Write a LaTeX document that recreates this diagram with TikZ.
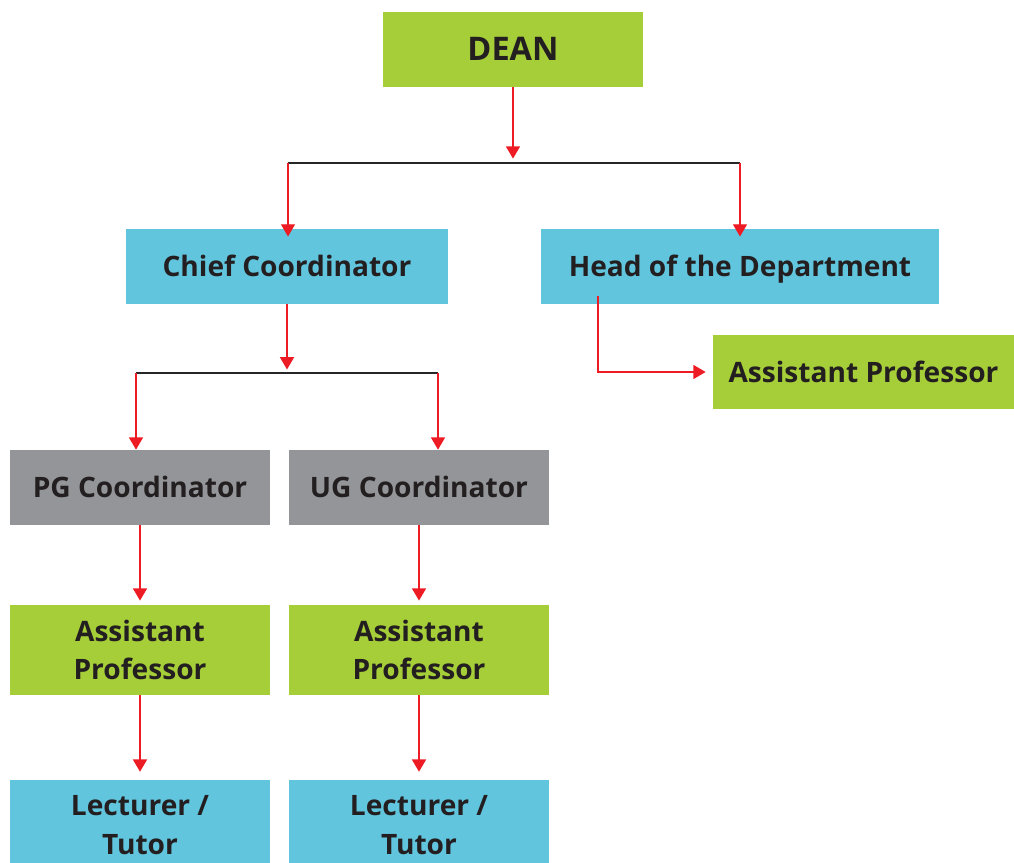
\documentclass[tikz,border=0pt]{standalone}
\usepackage{fontspec}
\setmainfont{Open Sans}
\usetikzlibrary{arrows.meta}
\definecolor{boxGreen}{RGB}{166,206,57}
\definecolor{boxBlue}{RGB}{98,197,222}
\definecolor{boxGray}{RGB}{147,149,152}
\definecolor{arrowRed}{RGB}{237,28,36}
\definecolor{textDark}{RGB}{35,31,32}

\begin{document}
\begin{tikzpicture}[
    x=0.02cm,
    y=-0.02cm,
    post/.style={
        rectangle,
        inner sep=0pt,
        text=textDark,
        align=center,
        font=\fontsize{16}{22}\selectfont\bfseries,
        minimum height=75*0.02cm
    },
    oneline/.style={
        text height=11.5pt,
        text depth=0pt
    },
    greenpost/.style={
        post,
        fill=boxGreen
    },
    bluepost/.style={
        post,
        fill=boxBlue
    },
    graypost/.style={
        post,
        fill=boxGray
    },
    link/.style={
        arrowRed,
        line width=0.8pt,
        -{Triangle[length=7pt,width=8pt]}
    },
    branch/.style={
        black!85,
        line width=0.8pt
    }
]

\useasboundingbox (0,0) rectangle (1014,862);

%------------------------------------------------
% Top levels
%------------------------------------------------
\node[greenpost,oneline,text height=13pt,minimum width=260*0.02cm,
    font=\fontsize{18.5}{22}\selectfont\bfseries] (dean) at (513,49.5) {DEAN};

\node[bluepost,oneline,minimum width=322*0.02cm] (chief) at (287,266.5)
    {Chief Coordinator};

\node[bluepost,oneline,minimum width=398*0.02cm] (hod) at (740,266.5)
    {Head of the Department};

\node[greenpost,oneline,minimum width=301*0.02cm,minimum height=74*0.02cm]
    (asstright) at (863.5,372) {Assistant Professor};

%------------------------------------------------
% Coordinators
%------------------------------------------------
\node[graypost,oneline,minimum width=260*0.02cm] (pg) at (140,487.5)
    {PG Coordinator};

\node[graypost,oneline,minimum width=260*0.02cm] (ug) at (419,487.5)
    {UG Coordinator};

%------------------------------------------------
% Staff under each coordinator
%------------------------------------------------
\foreach \name/\x in {pg/140,ug/419}{
    \node[greenpost,minimum width=260*0.02cm,minimum height=90*0.02cm]
        (asst\name) at (\x,650) {Assistant\\Professor};
    \node[bluepost,minimum width=260*0.02cm,minimum height=90*0.02cm]
        (lect\name) at (\x,825) {Lecturer /\\Tutor};
}

%------------------------------------------------
% Branch points
%------------------------------------------------
\coordinate (deansplit) at (513,163);
\coordinate (deanleft) at (288,163);
\coordinate (deanright) at (740,163);

\coordinate (chiefsplit) at (287,373);
\coordinate (chiefleft) at (136,373);
\coordinate (chiefright) at (438,373);

\coordinate (hodstart) at (598,296);
\coordinate (hodbend) at (598,372);

% Dean to chief coordinator and head of department
\draw[link,shorten >=2.5pt] (dean.south) -- (deansplit);
\draw[branch] (deanleft) -- (deanright);
\draw[link,shorten >=-4.5pt] (deanleft) -- (deanleft |- chief.north);
\draw[link,shorten >=-4.5pt] (deanright) -- (deanright |- hod.north);

% Chief coordinator to PG and UG
\draw[link,shorten >=2pt] (chief.south) -- (chiefsplit);
\draw[branch] (chiefleft) -- (chiefright);
\draw[link] (chiefleft) -- (chiefleft |- pg.north);
\draw[link] (chiefright) -- (chiefright |- ug.north);

% Head of department to assistant professor
\draw[link,shorten >=4pt] (hodstart) -- (hodbend) -- (asstright.west |- hodbend);

% Down each column
\foreach \name in {pg,ug}{
    \draw[link,shorten >=2.3pt] (\name.south) -- (asst\name.north);
    \draw[link,shorten >=4.5pt] (asst\name.south) -- (lect\name.north);
}

\end{tikzpicture}
\end{document}
